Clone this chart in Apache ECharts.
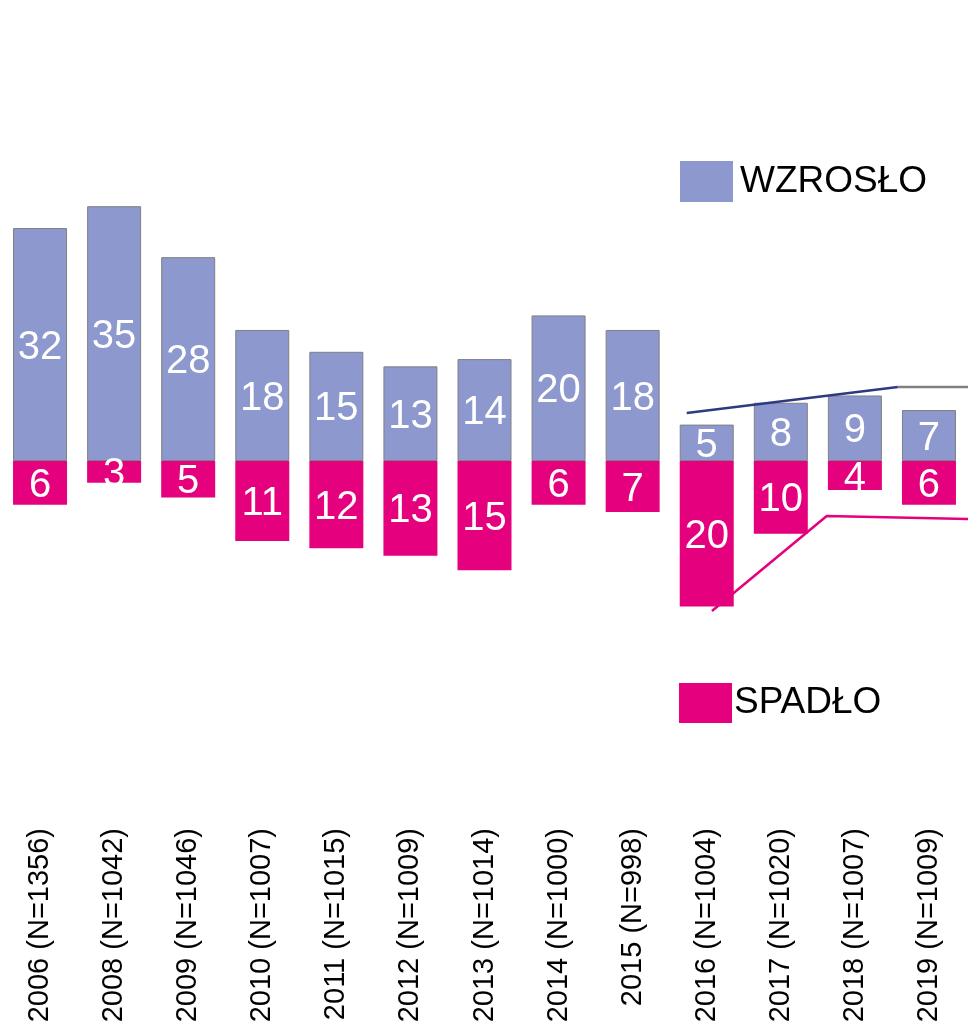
<!DOCTYPE html>
<html>
<head>
<meta charset="utf-8">
<script src="https://cdn.jsdelivr.net/npm/echarts@6/dist/echarts.min.js"></script>
<style>
    html, body {margin: 0; padding: 0; background: #fff;}
    #chart {width: 968px; height: 1021px;}
</style>
</head>
<body>
<div id="chart"></div>
<script>
// 年份 / 样本量
var years = ['2006 (N=1356)', '2008 (N=1042)', '2009 (N=1046)', '2010 (N=1007)', '2011 (N=1015)',
    '2012 (N=1009)', '2013 (N=1014)', '2014 (N=1000)', '2015 (N=998)', '2016 (N=1004)',
    '2017 (N=1020)', '2018 (N=1007)', '2019 (N=1009)'];
// 上升
var wzroslo = [32, 35, 28, 18, 15, 13, 14, 20, 18, 5, 8, 9, 7];
// 下降
var spadlo = [6, 3, 5, 11, 12, 13, 15, 6, 7, 20, 10, 4, 6];
// 趋势线 [类目位置, 数值]
var trendUp = [[8.73, 6.6], [11.58, 10.15]];
var trendUpFlat = [[11.58, 10.15], [12.56, 10.15]];
var trendDown = [[9.07, -20.6], [10.62, -7.55], [12.56, -7.97]];

var blue = '#8C98CE';
var pink = '#E5007D';
var font = 'Liberation Sans, Arial, sans-serif';

var chart = echarts.init(document.getElementById('chart'));
var option = {
    animation: false,
    textStyle: {fontFamily: font},
    grid: {left: 3, right: 2, top: 169.8, bottom: 196, containLabel: false, outerBoundsMode: 'none'},
    legend: [
        {
            data: ['WZROSŁO'],
            left: 675, top: 156,
            icon: 'rect', itemWidth: 53, itemHeight: 41, itemGap: 0,
            selectedMode: false,
            itemStyle: {borderWidth: 0},
            textStyle: {fontSize: 37, color: '#000', fontFamily: font, padding: [0, 0, 0, 2]}
        },
        {
            data: ['SPADŁO'],
            left: 674, top: 678,
            icon: 'rect', itemWidth: 53, itemHeight: 40, itemGap: 0,
            selectedMode: false,
            itemStyle: {borderWidth: 0},
            textStyle: {fontSize: 37, color: '#000', fontFamily: font, padding: [0, 0, 0, -3]}
        }
    ],
    xAxis: [
        {
            type: 'category',
            data: years,
            axisLine: {show: false, onZero: false},
            axisTick: {show: false},
            axisLabel: {rotate: 90, fontSize: 29, color: '#000', margin: 3, interval: 0, fontFamily: font}
        },
        {
            type: 'value',
            min: -0.5, max: 12.5,
            show: false
        }
    ],
    yAxis: {
        type: 'value',
        min: -50, max: 40,
        show: false,
        splitLine: {show: false}
    },
    series: [
        {
            name: 'WZROSŁO',
            type: 'bar',
            data: wzroslo,
            barWidth: 54,
            barGap: '-100%',
            itemStyle: {color: blue, borderColor: '#808080', borderWidth: 1},
            label: {show: true, position: 'inside', offset: [0, 3], color: '#fff', fontSize: 40, fontFamily: font}
        },
        {
            name: 'SPADŁO',
            type: 'bar',
            data: spadlo.map(function (v) { return -v; }),
            barWidth: 54,
            itemStyle: {color: pink},
            label: {
                show: true, position: 'inside', offset: [0, 3], color: '#fff', fontSize: 40, fontFamily: font,
                formatter: function (p) { return Math.abs(p.value); }
            }
        },
        {
            type: 'line', xAxisIndex: 1, data: trendUp, symbol: 'none', clip: false,
            lineStyle: {color: '#2E3A80', width: 2.5}
        },
        {
            type: 'line', xAxisIndex: 1, data: trendUpFlat, symbol: 'none', clip: false,
            lineStyle: {color: '#808080', width: 2.5}
        },
        {
            type: 'line', xAxisIndex: 1, data: trendDown, symbol: 'none', clip: false,
            lineStyle: {color: pink, width: 2.5}
        }
    ]
};
chart.setOption(option);
</script>
</body>
</html>
